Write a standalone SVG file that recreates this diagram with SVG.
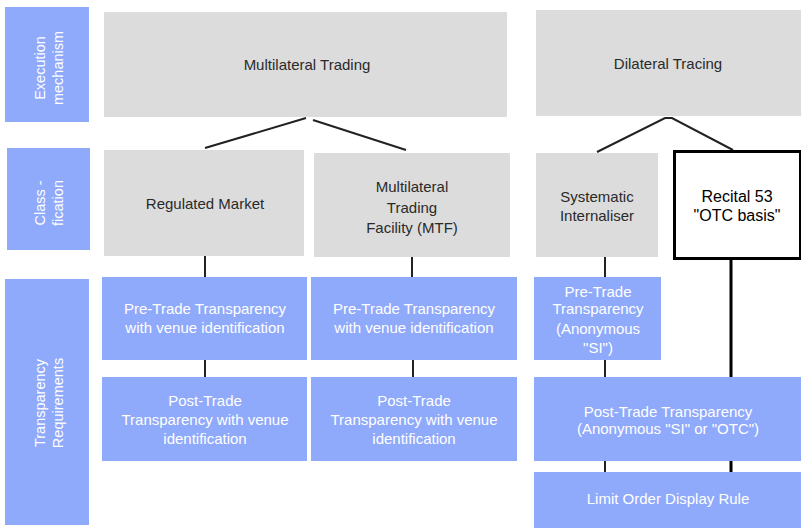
<svg xmlns="http://www.w3.org/2000/svg" width="801" height="528" viewBox="0 0 801 528">
<style>
.blue{fill:#8fa9fb}
.gray{fill:#dcdcdc}
.t{font-family:"Liberation Sans",Arial,sans-serif;font-size:15px;text-anchor:middle}
.w{fill:#ffffff}
.k{fill:#2a2a2a}
.side{font-family:"Liberation Sans",Arial,sans-serif;font-size:14.5px;text-anchor:middle;fill:#ffffff}
.ln{stroke:#222;stroke-width:2;fill:none}
.thick{stroke:#000;stroke-width:3;fill:none}
</style>
<rect width="801" height="528" fill="#ffffff"/>
<g id="connectors">
<polyline class="ln" points="205,148 306,118"/>
<polyline class="ln" points="313,120 406,150"/>
<polyline class="ln" points="597,152 665,118 672,118 733,150"/>
<line class="ln" x1="205" y1="256" x2="205" y2="277"/>
<line class="ln" x1="412" y1="257" x2="412" y2="277"/>
<line class="ln" x1="605" y1="257" x2="605" y2="277"/>
<line class="ln" x1="205" y1="360" x2="205" y2="377"/>
<line class="ln" x1="413" y1="360" x2="413" y2="377"/>
<line class="ln" x1="605" y1="360" x2="605" y2="377"/>
<line class="thick" x1="731" y1="259" x2="731" y2="377"/>
<line class="ln" x1="605" y1="461" x2="605" y2="472"/>
<line class="thick" x1="731" y1="461" x2="731" y2="472"/>
</g>
<g id="lbl-exec">
<rect class="blue" x="5" y="7" width="84" height="115"/>
<text class="side" transform="translate(49,68) rotate(-90)"><tspan x="0" y="-4">Execution</tspan><tspan x="0" y="14">mechanism</tspan></text>
</g>
<g id="lbl-class">
<rect class="blue" x="7" y="148" width="83" height="102"/>
<text class="side" transform="translate(49,203) rotate(-90)"><tspan x="0" y="-4">Class -</tspan><tspan x="0" y="14">fication</tspan></text>
</g>
<g id="lbl-transp">
<rect class="blue" x="5" y="279" width="84" height="246"/>
<text class="side" transform="translate(49,403) rotate(-90)"><tspan x="0" y="-4">Transparency</tspan><tspan x="0" y="14">Requirements</tspan></text>
</g>
<g id="multilateral">
<rect class="gray" x="104" y="12" width="403" height="105"/>
<text class="t k" x="307" y="70">Multilateral Trading</text>
</g>
<g id="dilateral">
<rect class="gray" x="536" y="10" width="265" height="106"/>
<text class="t k" x="668" y="69">Dilateral Tracing</text>
</g>
<g id="regulated">
<rect class="gray" x="104" y="150" width="200" height="106"/>
<text class="t k" x="205" y="209">Regulated Market</text>
</g>
<g id="mtf">
<rect class="gray" x="314" y="153" width="196" height="104"/>
<text class="t k"><tspan x="412" y="192">Multilateral</tspan><tspan x="412" y="213">Trading</tspan><tspan x="412" y="233">Facility (MTF)</tspan></text>
</g>
<g id="si">
<rect class="gray" x="536" y="153" width="122" height="104"/>
<text class="t k"><tspan x="597" y="202">Systematic</tspan><tspan x="597" y="221">Internaliser</tspan></text>
</g>
<g id="recital">
<rect x="674.500" y="151.500" width="126" height="107" fill="#ffffff" stroke="#000" stroke-width="3"/>
<text class="t" fill="#000" style="font-size:16px"><tspan x="737" y="202">Recital 53</tspan><tspan x="737" y="221">"OTC basis"</tspan></text>
</g>
<g id="pre-rm">
<rect class="blue" x="102" y="277" width="205" height="83"/>
<text class="t w"><tspan x="205" y="314">Pre-Trade Transparency</tspan><tspan x="205" y="333">with venue identification</tspan></text>
</g>
<g id="pre-mtf">
<rect class="blue" x="311" y="277" width="206" height="83"/>
<text class="t w"><tspan x="414" y="314">Pre-Trade Transparency</tspan><tspan x="414" y="333">with venue identification</tspan></text>
</g>
<g id="pre-si">
<rect class="blue" x="534" y="277" width="127" height="83"/>
<text class="t w"><tspan x="598" y="297">Pre-Trade</tspan><tspan x="598" y="314">Transparency</tspan><tspan x="598" y="334">(Anonymous</tspan><tspan x="598" y="353">"SI")</tspan></text>
</g>
<g id="post-rm">
<rect class="blue" x="102" y="377" width="205" height="84"/>
<text class="t w"><tspan x="205" y="406">Post-Trade</tspan><tspan x="205" y="425">Transparency with venue</tspan><tspan x="205" y="444">identification</tspan></text>
</g>
<g id="post-mtf">
<rect class="blue" x="311" y="377" width="206" height="84"/>
<text class="t w"><tspan x="414" y="406">Post-Trade</tspan><tspan x="414" y="425">Transparency with venue</tspan><tspan x="414" y="444">identification</tspan></text>
</g>
<g id="post-right">
<rect class="blue" x="534" y="377" width="267" height="84"/>
<text class="t w"><tspan x="668" y="417">Post-Trade Transparency</tspan><tspan x="668" y="434">(Anonymous "SI" or "OTC")</tspan></text>
</g>
<g id="limit">
<rect class="blue" x="534" y="472" width="267" height="56"/>
<text class="t w" x="668" y="504">Limit Order Display Rule</text>
</g>
</svg>
